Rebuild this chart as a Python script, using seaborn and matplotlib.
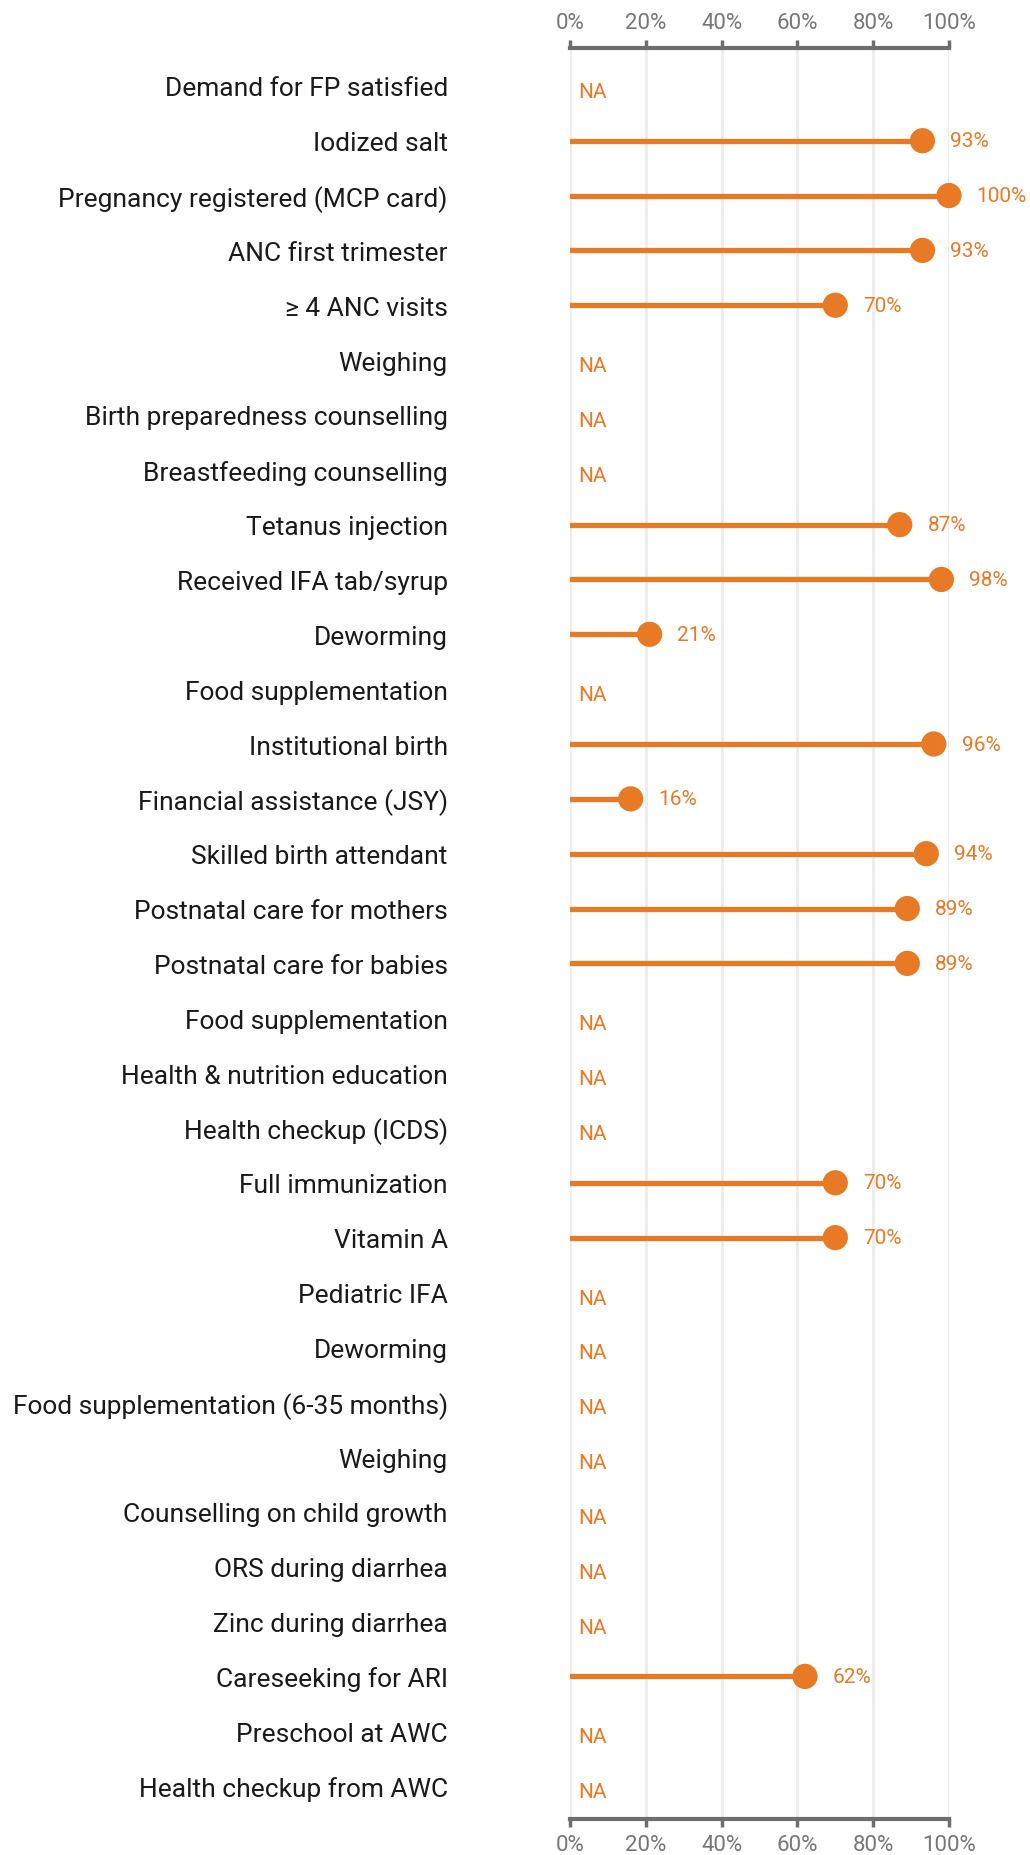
import matplotlib
matplotlib.use('Agg')
import matplotlib.pyplot as plt
import numpy as np
import pandas as pd
import seaborn as sns

indicators = [
    'Demand for FP satisfied', 'Iodized salt', 'Pregnancy registered (MCP card)',
    'ANC first trimester', '≥ 4 ANC visits', 'Weighing',
    'Birth preparedness counselling', 'Breastfeeding counselling',
    'Tetanus injection', 'Received IFA tab/syrup', 'Deworming',
    'Food supplementation', 'Institutional birth', 'Financial assistance (JSY)',
    'Skilled birth attendant', 'Postnatal care for mothers',
    'Postnatal care for babies', 'Food supplementation',
    'Health & nutrition education', 'Health checkup (ICDS)',
    'Full immunization', 'Vitamin A', 'Pediatric IFA', 'Deworming',
    'Food supplementation (6-35 months)', 'Weighing',
    'Counselling on child growth', 'ORS during diarrhea', 'Zinc during diarrhea',
    'Careseeking for ARI', 'Preschool at AWC', 'Health checkup from AWC',
]
values = [
    None, 93, 100, 93, 70, None, None, None, 87, 98, 21, None, 96, 16, 94, 89,
    89, None, None, None, 70, 70, None, None, None, None, None, None, None, 62,
    None, None,
]
x_ticks = [0, 20, 40, 60, 80, 100]

ORANGE = '#e87a25'

df = pd.DataFrame({'indicator': indicators, 'value': values})
df['row'] = np.arange(len(df))
df['value'] = pd.to_numeric(df['value'])
have = df.dropna(subset=['value'])
missing = df[df['value'].isna()]

sns.set_theme(style='white')
plt.rcParams['font.family'] = ['Roboto', 'DejaVu Sans']

fig = plt.figure(figsize=(10.30, 18.56), dpi=100)
ax = fig.add_axes([570 / 1030, 1 - 1820 / 1856, 379 / 1030, (1820 - 49) / 1856])

for t in x_ticks:
    ax.axvline(t, color='#efede9', lw=2.2, zorder=0)

ax.hlines(have['row'], -0.6, have['value'], color=ORANGE, lw=3.8, zorder=2)
sns.scatterplot(data=have, x='value', y='row', s=330, color=ORANGE,
                edgecolor='none', ax=ax, zorder=3, clip_on=False)

for _, r in have.iterrows():
    ax.annotate(f"{r['value']:.0f}%", (r['value'], r['row']), xytext=(20, 0),
                textcoords='offset points', va='center', ha='left',
                color=ORANGE, fontsize=15, annotation_clip=False)
for _, r in missing.iterrows():
    ax.annotate('NA', (0, r['row']), xytext=(6, -4), textcoords='offset points',
                va='center', ha='left', color=ORANGE, fontsize=15)

ax.set_xlim(0, 100)
ax.set_ylim(31.6, -0.69)
ax.set_xticks(x_ticks)
ax.set_xticklabels([f'{t}%' for t in x_ticks])
ax.set_yticks(df['row'])
ax.set_yticklabels(df['indicator'])
ax.set_xlabel('')
ax.set_ylabel('')

for side in ['left', 'right']:
    ax.spines[side].set_visible(False)
for side in ['top', 'bottom']:
    ax.spines[side].set_visible(True)
    ax.spines[side].set_color('#6e6e6e')
    ax.spines[side].set_linewidth(3)

ax.tick_params(axis='x', which='both', top=True, bottom=True, labeltop=True,
               labelbottom=True, direction='out', length=6, width=2.5,
               color='#6e6e6e', labelcolor='#777777', labelsize=16, pad=5)
ax.tick_params(axis='y', length=0, pad=88, labelsize=19, labelcolor='#1a1a1a')

fig.savefig('out.png', dpi=100)
